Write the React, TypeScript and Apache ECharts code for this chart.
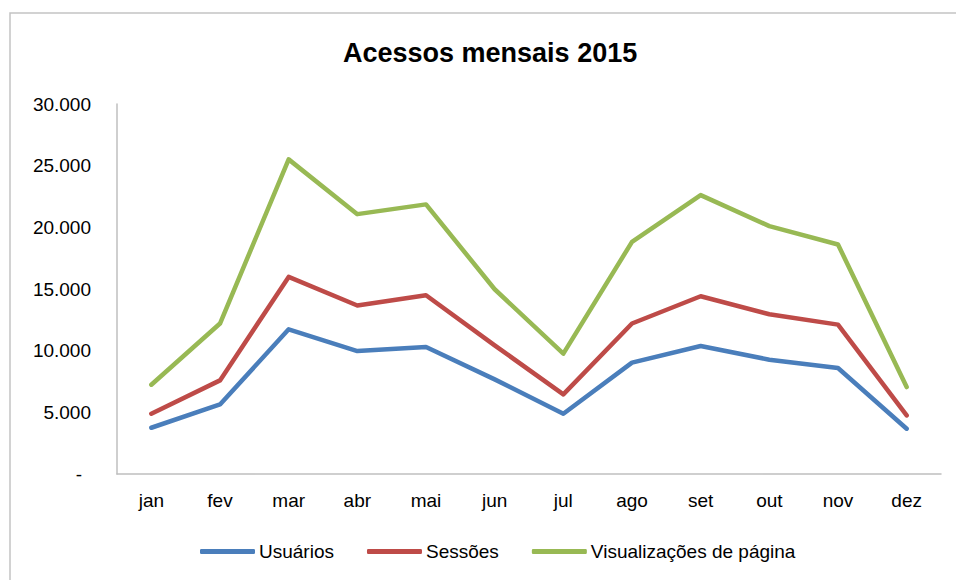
import React, { useEffect, useRef } from "react";
import * as echarts from "echarts";

const titleText = "Acessos mensais 2015";
const months = ["jan", "fev", "mar", "abr", "mai", "jun", "jul", "ago", "set", "out", "nov", "dez"];
const usuarios = [3750, 5640, 11730, 9970, 10300, 7670, 4890, 9030, 10380, 9270, 8590, 3670];
const sessoes = [4890, 7590, 15980, 13660, 14490, 10430, 6460, 12200, 14410, 12950, 12110, 4750];
const visualizacoes = [7240, 12200, 25510, 21070, 21860, 14980, 9760, 18820, 22610, 20100, 18610, 7050];
const seriesNames = ["Usuários", "Sessões", "Visualizações de página"];
const seriesColors = ["#4A7EBB", "#BE4B48", "#98B954"];

const FONT = "'Liberation Sans', Arial, sans-serif";

function fmt(v: number): string {
  if (v === 0) return "{d|-}";
  return String(v).replace(/\B(?=(\d{3})+(?!\d))/g, ".");
}

export default function App() {
  const ref = useRef<HTMLDivElement>(null);
  useEffect(() => {
    if (!ref.current) return;
    const chart = echarts.init(ref.current, undefined, { renderer: "svg" });
    const data = [usuarios, sessoes, visualizacoes];
    chart.setOption({
      animation: false,
      backgroundColor: "#ffffff",
      title: {
        text: titleText,
        left: 338,
        top: 34,
        padding: 5,
        textStyle: { fontFamily: FONT, fontSize: 27, fontWeight: "bold", color: "#000" },
      },
      graphic: [
        {
          type: "rect",
          shape: { x: 10, y: 13, width: 1000, height: 1000 },
          style: { fill: "none", stroke: "#c3c3c3", lineWidth: 1.5 },
          silent: true,
          z: -1,
        },
      ],
      grid: { left: 117, right: 15, top: 104, bottom: 106, containLabel: false },
      legend: {
        left: 195,
        top: 537,
        icon: "roundRect",
        itemWidth: 55,
        itemHeight: 5,
        itemGap: 33,
        textStyle: { fontFamily: FONT, fontSize: 19, color: "#000", padding: [0, 0, 0, -1] },
        data: seriesNames,
      },
      xAxis: {
        type: "category",
        data: months,
        boundaryGap: true,
        axisLine: { show: true, lineStyle: { color: "#bfbfbf", width: 1.5 } },
        axisTick: { show: false },
        axisLabel: { fontFamily: FONT, fontSize: 19, color: "#000", margin: 17 },
        splitLine: { show: false },
      },
      yAxis: {
        type: "value",
        min: 0,
        max: 30000,
        interval: 5000,
        axisLine: { show: true, lineStyle: { color: "#bfbfbf", width: 1.5 } },
        axisTick: { show: false },
        splitLine: { show: false },
        axisLabel: {
          fontFamily: FONT,
          fontSize: 19,
          color: "#000",
          margin: 26,
          formatter: fmt,
          rich: { d: { fontFamily: FONT, fontSize: 19, color: "#000", padding: [0, 9, 0, 0] } },
        },
      },
      series: data.map((d, i) => ({
        name: seriesNames[i],
        type: "line",
        data: d,
        symbol: "none",
        color: seriesColors[i],
        lineStyle: { width: 4.5, color: seriesColors[i], cap: "round", join: "round" },
      })),
    });
    return () => chart.dispose();
  }, []);
  return (
    <div
      ref={ref}
      style={{ position: "absolute", left: 0, top: 0, width: 956, height: 580, background: "#fff" }}
    />
  );
}
